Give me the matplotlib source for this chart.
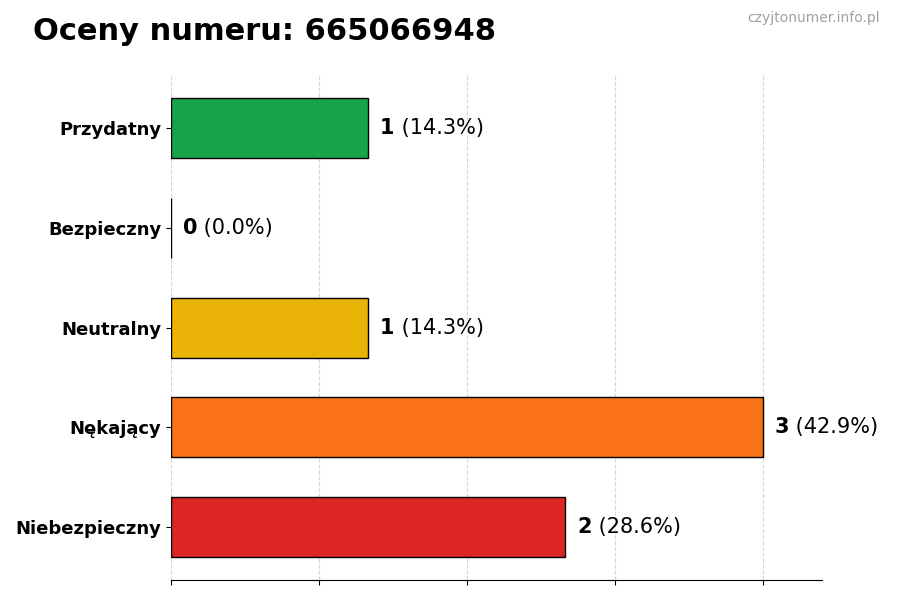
import matplotlib
matplotlib.use("Agg")
import matplotlib.pyplot as plt

# %% data
categories = ["Przydatny", "Bezpieczny", "Neutralny", "Nękający", "Niebezpieczny"]
counts = [1, 0, 1, 3, 2]
colors = ["#16a34a", "#2563eb", "#eab308", "#f97316", "#dc2626"]
phone = "665066948"

total = sum(counts)
pos = list(range(len(categories)))

# %% plot
fig = plt.figure(figsize=(9, 6), dpi=100)
ax = fig.add_axes([0.19, 0.033, 0.723, 0.842])

ax.barh(pos, counts, height=0.6, color=colors, edgecolor="black", linewidth=1, zorder=2)
ax.invert_yaxis()
ax.set_yticks(pos)
ax.set_yticklabels(categories, fontsize=13, fontweight="bold")

xmax = max(counts)
ax.set_xlim(0, xmax * 1.1)
ax.set_xticks([xmax * i / 4 for i in range(5)])
ax.set_xticklabels([])
ax.grid(axis="x", linestyle="--", color="lightgray", alpha=0.9, zorder=0)
for s in ["top", "right", "left"]:
    ax.spines[s].set_visible(False)

# value labels: bold count + normal percent
for p, c in zip(pos, counts):
    pct = c / total * 100 if total else 0
    t = ax.text(c + xmax * 0.02, p, str(c), fontsize=15, fontweight="bold", va="center", ha="left")
    ax.annotate(" (%.1f%%)" % pct, xy=(1, 0.5), xycoords=t, va="center", ha="left", fontsize=15)

fig.text(0.037, 0.947, "Oceny numeru: %s" % phone, fontsize=22, fontweight="bold", va="center", ha="left")
fig.text(0.978, 0.970, "czyjtonumer.info.pl", fontsize=10, color="#a0a0a0", va="center", ha="right")

fig.savefig("out.png", dpi=100)
